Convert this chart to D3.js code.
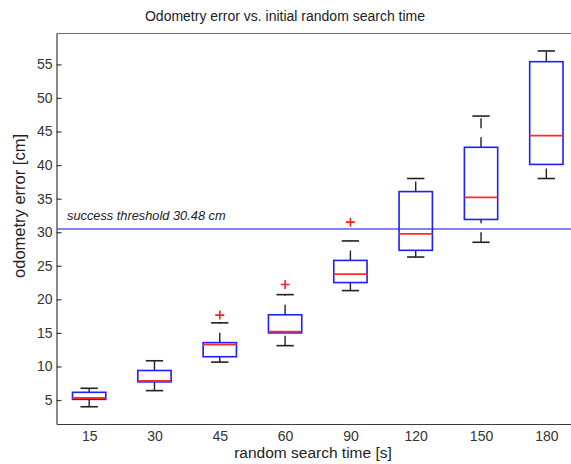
<!DOCTYPE html>
<html>
<head>
<meta charset="utf-8">
<script src="https://cdn.jsdelivr.net/npm/d3@7"></script>
<style>
  html, body { margin: 0; padding: 0; background: #fff; }
  svg { display: block; font-family: "Liberation Sans", Arial, sans-serif; }
</style>
</head>
<body>
<svg id="chart" width="571" height="464"></svg>
<script>
// Search durations (seconds) used as the groups on the x axis
const searchTimes = ["15", "30", "45", "60", "90", "120", "150", "180"];

// Box-plot statistics of the odometry error (cm) for each group
const lowerWhisker = [4.0, 6.4, 10.65, 13.1, 21.3, 26.3, 28.5, 38.0];
const lowerQuartile = [5.1, 7.7, 11.45, 15.0, 22.5, 27.3, 31.9, 40.1];
const medians = [5.3, 7.85, 13.25, 15.2, 23.75, 29.75, 35.2, 44.4];
const upperQuartile = [6.15, 9.4, 13.55, 17.7, 25.8, 36.05, 42.65, 55.4];
const upperWhisker = [6.75, 10.85, 16.5, 20.7, 28.7, 38.0, 47.3, 57.0];

// Individual outliers: group and value
const outlierGroups = ["45", "60", "90"];
const outlierValues = [17.65, 22.2, 31.5];

// Success threshold (cm)
const threshold = 30.48;
const yTicks = [5, 10, 15, 20, 25, 30, 35, 40, 45, 50, 55];

const svg = d3.select("#chart");
const plot = { left: 56.5, right: 579, top: 33.5, bottom: 424 };

const x = d3.scalePoint()
  .domain(searchTimes)
  .range([plot.left, plot.right])
  .padding(0.5);
const boxW = x.step() * 0.51;
const capW = boxW * 0.52;

const y = d3.scaleLinear()
  .domain([1.43, 59.6])
  .range([plot.bottom, plot.top]);

const axisColor = "#3c3c3c";

// Frame: top edge
svg.append("line")
  .attr("x1", plot.left).attr("x2", plot.right)
  .attr("y1", plot.top).attr("y2", plot.top)
  .attr("stroke", "#6e6e6e").attr("stroke-width", 1.2);

// Y axis with inward ticks
const yAxis = svg.append("g")
  .attr("transform", `translate(${plot.left},0)`)
  .call(d3.axisLeft(y).tickValues(yTicks).tickSizeInner(-5).tickSizeOuter(0).tickPadding(4));
yAxis.select(".domain").attr("stroke", axisColor).attr("stroke-width", 1.2);
yAxis.selectAll(".tick line").attr("stroke", axisColor).attr("stroke-width", 1.2);
yAxis.selectAll(".tick text")
  .attr("font-size", 14).attr("fill", "#333")
  .attr("font-family", "Liberation Sans, Arial, sans-serif");

// X axis: labels only
const xAxis = svg.append("g")
  .attr("transform", `translate(0,${plot.bottom})`)
  .call(d3.axisBottom(x).tickSize(0).tickPadding(7));
xAxis.select(".domain").attr("stroke", axisColor).attr("stroke-width", 1.2);
xAxis.selectAll(".tick text")
  .attr("font-size", 14).attr("fill", "#333")
  .attr("font-family", "Liberation Sans, Arial, sans-serif");

// Threshold line and label
svg.append("line")
  .attr("x1", plot.left).attr("x2", plot.right)
  .attr("y1", y(threshold)).attr("y2", y(threshold))
  .attr("stroke", "#5a5af5").attr("stroke-width", 1.6);
svg.append("text")
  .attr("x", 67).attr("y", y(threshold) - 8.5)
  .attr("font-size", 12.8).attr("font-style", "italic").attr("fill", "#222")
  .text(`success threshold ${threshold} cm`);

// Box plots
const groups = svg.append("g").selectAll("g")
  .data(searchTimes.map((t, i) => ({
    t, lo: lowerWhisker[i], q1: lowerQuartile[i], med: medians[i],
    q3: upperQuartile[i], hi: upperWhisker[i]
  })))
  .join("g")
  .attr("transform", d => `translate(${x(d.t)},0)`);

const whiskerColor = "#222";
// Whisker lines (dashed, drawn bottom to top)
groups.append("line")
  .attr("x1", 0).attr("x2", 0)
  .attr("y1", d => y(d.q3)).attr("y2", d => y(d.hi))
  .attr("stroke", whiskerColor).attr("stroke-width", 1.4)
  .attr("stroke-dasharray", "10,9");
groups.append("line")
  .attr("x1", 0).attr("x2", 0)
  .attr("y1", d => y(d.lo)).attr("y2", d => y(d.q1))
  .attr("stroke", whiskerColor).attr("stroke-width", 1.4)
  .attr("stroke-dasharray", "10,9");
// Whisker caps
groups.append("line")
  .attr("x1", -capW / 2).attr("x2", capW / 2)
  .attr("y1", d => y(d.hi)).attr("y2", d => y(d.hi))
  .attr("stroke", whiskerColor).attr("stroke-width", 1.6);
groups.append("line")
  .attr("x1", -capW / 2).attr("x2", capW / 2)
  .attr("y1", d => y(d.lo)).attr("y2", d => y(d.lo))
  .attr("stroke", whiskerColor).attr("stroke-width", 1.6);
// Boxes
groups.append("rect")
  .attr("x", -boxW / 2).attr("width", boxW)
  .attr("y", d => y(d.q3)).attr("height", d => y(d.q1) - y(d.q3))
  .attr("fill", "none").attr("stroke", "#1e1eff").attr("stroke-width", 1.6);
// Medians
groups.append("line")
  .attr("x1", -boxW / 2).attr("x2", boxW / 2)
  .attr("y1", d => y(d.med)).attr("y2", d => y(d.med))
  .attr("stroke", "#ff2a2a").attr("stroke-width", 1.8);

// Outliers as red plus signs
svg.append("g").selectAll("path")
  .data(outlierGroups.map((g, i) => ({ g, v: outlierValues[i] })))
  .join("path")
  .attr("d", d => {
    const cx = x(d.g), cy = y(d.v), r = 4.5;
    return `M${cx - r},${cy}H${cx + r}M${cx},${cy - r}V${cy + r}`;
  })
  .attr("stroke", "#ff2020").attr("stroke-width", 1.6).attr("fill", "none");

// Title and axis labels
svg.append("text")
  .attr("x", 285).attr("y", 21)
  .attr("text-anchor", "middle").attr("font-size", 14).attr("fill", "#222")
  .text("Odometry error vs. initial random search time");
svg.append("text")
  .attr("x", 313).attr("y", 458)
  .attr("text-anchor", "middle").attr("font-size", 15.5).attr("fill", "#222")
  .text("random search time [s]");
svg.append("text")
  .attr("transform", "translate(25,206) rotate(-90)")
  .attr("text-anchor", "middle").attr("font-size", 16.5).attr("fill", "#222")
  .text("odometry error [cm]");
</script>
</body>
</html>
